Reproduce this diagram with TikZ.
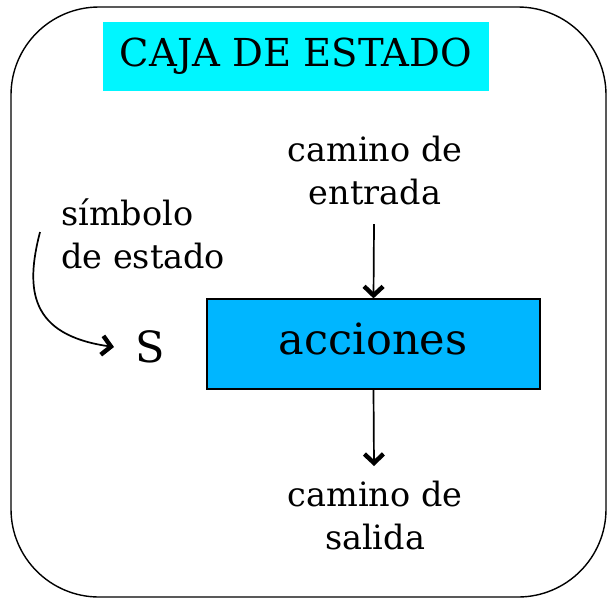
\documentclass[tikz,border=0pt]{standalone}
\usepackage{fontspec}
\setmainfont{DejaVu Serif}
\usetikzlibrary{arrows.meta,positioning}
\definecolor{titlecyan}{HTML}{00F6FF}
\definecolor{actblue}{HTML}{00B6FF}

\begin{document}
\begin{tikzpicture}[x=1pt,y=-1pt,
  lbl/.style={font=\fontsize{33.5}{43}\selectfont,align=center,inner sep=0pt},
  arr/.style={-{Straight Barb[length=9pt,width=19pt,line width=0pt 2.6]},draw=black,line width=1.7pt}]
\useasboundingbox (0,0) rectangle (607,598);
\draw[line width=1.4pt,rounded corners=88pt] (11,7) rectangle (606,597);
\node[fill=titlecyan,minimum width=386pt,minimum height=69pt,inner sep=0pt,
  font=\fontsize{38.5}{40}\selectfont] (title) at (296,56.5) {CAJA DE ESTADO};
\node[draw=black,line width=1.2pt,fill=actblue,minimum width=333pt,minimum height=90pt,inner sep=0pt] (act) at (373.5,344) {};
\node[font=\fontsize{43}{46}\selectfont,inner sep=0pt] (acttext) at (373,339) {acciones};
\node[lbl] (in) at (375,171) {camino de\\entrada};
\node[lbl] (out) at (375,515) {camino de\\salida};
\node[lbl,align=left,anchor=west] (sym) at (61,234) {símbolo\\de estado};
\node[font=\fontsize{43}{46}\selectfont,inner sep=0pt] (s) at (150,347) {S};
\coordinate (instart) at (374,224);
\coordinate (outend) at (374,466);
\coordinate (curvestart) at (40,232);
\coordinate (curveend) at (114,347);
\draw[arr] (instart) -- (act.north);
\draw[arr] (act.south) -- (outend);
\draw[arr] (curvestart) .. controls (25,290) and (30,335) .. (curveend);
\end{tikzpicture}
\end{document}
